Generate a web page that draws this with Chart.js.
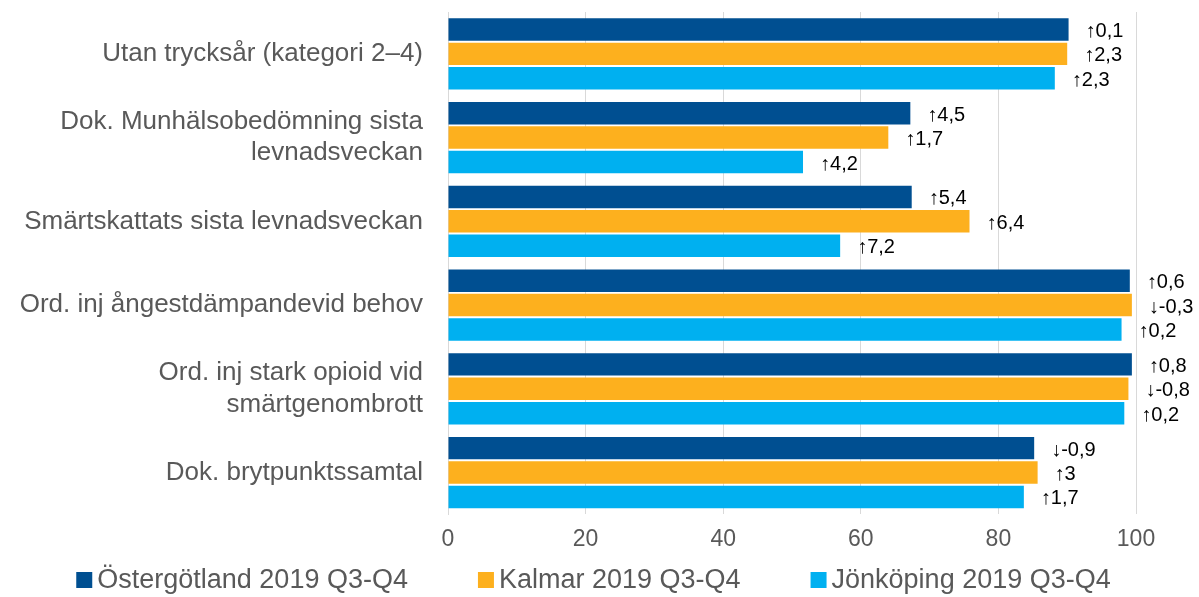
<!DOCTYPE html>
<html>
<head>
<meta charset="utf-8">
<script src="https://cdn.jsdelivr.net/npm/chart.js@4"></script>
<style>
  html, body { margin: 0; padding: 0; background: #fff; }
  #wrap { width: 1199px; height: 597px; }
</style>
</head>
<body>
<div id="wrap"><canvas id="myChart"></canvas></div>
<script>
var categories = [
    'Utan trycksår (kategori 2–4)',
    ['Dok. Munhälsobedömning sista', 'levnadsveckan'],
    'Smärtskattats sista levnadsveckan',
    'Ord. inj ångestdämpandevid behov',
    ['Ord. inj stark opioid vid', 'smärtgenombrott'],
    'Dok. brytpunktssamtal'
];
var seriesNames = ['Östergötland 2019 Q3-Q4', 'Kalmar 2019 Q3-Q4', 'Jönköping 2019 Q3-Q4'];
var ostergotland = [90.2, 67.2, 67.4, 99.1, 99.4, 85.2];
var kalmar = [90.0, 64.0, 75.8, 99.4, 98.9, 85.7];
var jonkoping = [88.2, 51.6, 57.0, 97.9, 98.3, 83.7];
var ostLabels = ['↑0,1', '↑4,5', '↑5,4', '↑0,6', '↑0,8', '↓-0,9'];
var kalLabels = ['↑2,3', '↑1,7', '↑6,4', '↓-0,3', '↓-0,8', '↑3'];
var jonLabels = ['↑2,3', '↑4,2', '↑7,2', '↑0,2', '↑0,2', '↑1,7'];
var xTicks = [0, 20, 40, 60, 80, 100];

var colors = ['#004F91', '#FDB01E', '#00B0F0'];
var allLabels = [ostLabels, kalLabels, jonLabels];
var FONT = '"Liberation Sans", Arial, sans-serif';

Chart.defaults.font.family = FONT;

// change labels to the right of each bar
var changeLabels = {
    id: 'changeLabels',
    afterDatasetsDraw: function(chart) {
        var ctx = chart.ctx;
        ctx.save();
        ctx.font = '20px ' + FONT;
        ctx.fillStyle = '#000';
        ctx.textAlign = 'left';
        ctx.textBaseline = 'middle';
        chart.data.datasets.forEach(function(ds, i) {
            var meta = chart.getDatasetMeta(i);
            meta.data.forEach(function(bar, j) {
                ctx.fillText(allLabels[i][j], bar.x + 17, bar.y + 2);
            });
        });
        ctx.restore();
    }
};

// legend drawn by hand so the gap between items can differ from the vertical padding
var bottomLegend = {
    id: 'bottomLegend',
    afterDraw: function(chart) {
        var ctx = chart.ctx;
        var box = 16, gap = 5, spacing = 70, y = 580;
        ctx.save();
        ctx.font = '27px ' + FONT;
        ctx.textBaseline = 'middle';
        ctx.textAlign = 'left';
        var items = chart.data.datasets.map(function(ds) {
            return { text: ds.label, color: ds.backgroundColor, w: box + gap + ctx.measureText(ds.label).width };
        });
        var total = items.reduce(function(s, it) { return s + it.w; }, 0) + spacing * (items.length - 1);
        var x = (chart.width - total) / 2 - 6;
        items.forEach(function(it) {
            ctx.fillStyle = it.color;
            ctx.fillRect(x, y - box / 2, box, box);
            ctx.fillStyle = '#595959';
            ctx.fillText(it.text, x + box + gap, y + 1);
            x += it.w + spacing;
        });
        ctx.restore();
    }
};

var ctx = document.getElementById('myChart');

var myChart = new Chart(ctx, {
    type: 'bar',
    data: {
        labels: categories,
        datasets: [
            { label: seriesNames[0], data: ostergotland, backgroundColor: colors[0] },
            { label: seriesNames[1], data: kalmar, backgroundColor: colors[1] },
            { label: seriesNames[2], data: jonkoping, backgroundColor: colors[2] }
        ]
    },
    options: {
        indexAxis: 'y',
        responsive: true,
        maintainAspectRatio: false,
        animation: false,
        layout: { padding: { top: 12, right: 63, left: 0, bottom: 33 } },
        datasets: {
            bar: { categoryPercentage: 0.875, barPercentage: 0.92, borderWidth: 0 }
        },
        scales: {
            x: {
                min: 0,
                max: 100,
                afterBuildTicks: function(scale) {
                    scale.ticks = xTicks.map(function(v) { return { value: v }; });
                },
                grid: { color: '#d9d9d9', lineWidth: 1, drawTicks: false },
                border: { display: false },
                ticks: { color: '#595959', font: { size: 23 }, padding: 11 }
            },
            y: {
                grid: { display: false, drawTicks: false },
                border: { display: true, color: '#d9d9d9' },
                ticks: { color: '#595959', font: { size: 26 }, padding: 25 },
                afterFit: function(scale) {
                    scale.width = 448;
                    scale.paddingTop = 0;
                    scale.paddingBottom = 0;
                }
            }
        },
        plugins: {
            legend: { display: false },
            tooltip: { enabled: false }
        }
    },
    plugins: [changeLabels, bottomLegend]
});
</script>
</body>
</html>
